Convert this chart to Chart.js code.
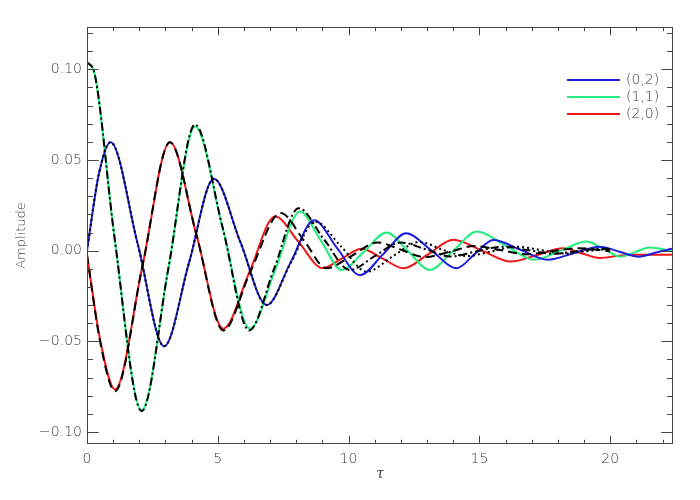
<!DOCTYPE html>
<html>
<head>
<meta charset="utf-8">
<script src="https://cdn.jsdelivr.net/npm/chart.js@4.4.1/dist/chart.umd.min.js"></script>
<style>
  html, body { margin: 0; padding: 0; background: #fff; }
  #wrap { width: 700px; height: 500px; }
</style>
</head>
<body>
<div id="wrap"><canvas id="chart" width="700" height="500"></canvas></div>
<script>
const xTicks = [0, 5, 10, 15, 20];
const yTicks = [-0.10, -0.05, 0.00, 0.05, 0.10];
const legendLabels = ['(0,2)', '(1,1)', '(2,0)'];

// (0,2) - blue
const tau02 = [0, 0.45, 0.9, 1.94, 2.95, 3.9, 4.85, 5.86, 6.87, 7.78, 8.68, 9.56, 10.44, 11.32, 12.2, 13.17, 14.13, 14.82, 15.53, 16.57, 17.6, 18.6, 19.6, 20.35, 21.1, 21.75, 22.4];
const amp02 = [0, 0.042, 0.0598, 0.0036, -0.0527, -0.0066, 0.0396, 0.0048, -0.030, -0.0066, 0.0168, 0.0014, -0.0135, -0.002, 0.0096, 0, -0.0097, -0.0019, 0.0059, 0.0005, -0.005, -0.0014, 0.0022, -0.0006, -0.0033, -0.001, 0.0012];

// (1,1) - green
const tau11 = [0, 0.3, 1.045, 2.09, 3.11, 4.13, 5.18, 6.23, 7.19, 8.14, 8.94, 9.74, 10.6, 11.45, 12.28, 13.1, 14.0, 14.9, 16.0, 17.1, 18.1, 19.1, 19.75, 20.4, 20.95, 21.5, 22.4];
const amp11 = [0.104, 0.097, 0.008, -0.088, -0.0098, 0.0685, 0.0128, -0.043, -0.0107, 0.0216, 0.0055, -0.0107, -0.0004, 0.0100, -0.0004, -0.0107, -0.0001, 0.0105, 0.0028, -0.005, 0, 0.005, 0.0009, -0.0033, -0.0008, 0.0017, -0.0003];

// (2,0) - red
const tau20 = [0, 0.5, 1.07, 2.12, 3.17, 4.19, 5.21, 6.2, 7.19, 8.1, 9.0, 9.75, 10.5, 11.3, 12.1, 13.05, 14.0, 15.1, 16.2, 17.2, 18.2, 18.9, 19.6, 20.25, 20.9, 22.4];
const amp20 = [-0.0024, -0.049, -0.0765, -0.0084, 0.0598, 0.0084, -0.043, -0.0121, 0.0188, 0.0046, -0.0096, -0.0043, 0.0010, -0.0044, -0.0097, -0.0019, 0.0060, 0, -0.006, -0.0024, 0.0013, -0.0014, -0.004, -0.003, -0.0022, -0.0022];

// black approximations
const tauDash = [0, 0.5, 1.07, 2.12, 3.17, 4.19, 5.21, 6.25, 7.4, 8.3, 9.15, 10.1, 11.1, 12.0, 12.9, 13.9, 14.8, 15.8, 16.8, 17.8, 18.8, 20.0];
const ampDash = [-0.0024, -0.050, -0.0775, -0.0084, 0.0598, 0.0084, -0.0440, -0.0115, 0.0207, 0.0055, -0.0097, -0.0030, 0.0045, 0.0005, -0.0035, -0.0005, 0.0025, 0.0003, -0.0020, -0.0002, 0.0013, -0.0003];

const tauDashDot = [0, 0.3, 1.045, 2.09, 3.11, 4.13, 5.18, 6.2, 7.15, 8.09, 9.07, 10.05, 11.0, 12.0, 13.0, 13.9, 14.9, 15.9, 16.9, 17.8, 18.8, 19.7, 20.0];
const ampDashDot = [0.104, 0.097, 0.008, -0.0885, -0.0098, 0.0695, 0.013, -0.044, -0.0100, 0.0234, 0.0060, -0.0107, -0.0030, 0.0045, 0.0005, -0.0032, -0.0003, 0.0022, 0.0002, -0.0017, -0.0002, 0.0011, 0.0009];

const tauDot = [0, 0.45, 0.9, 1.94, 2.95, 3.9, 4.85, 5.86, 6.87, 7.8, 8.72, 9.7, 10.7, 11.7, 12.7, 13.6, 14.5, 15.5, 16.4, 17.4, 18.3, 19.2, 20.0];
const ampDot = [0, 0.042, 0.0598, 0.0036, -0.0527, -0.0066, 0.0396, 0.0048, -0.030, -0.0065, 0.0160, 0.0025, -0.0116, -0.0030, 0.0048, 0.0005, -0.0030, -0.0003, 0.0022, 0.0002, -0.0016, -0.0001, 0.0009];

const pts = (xs, ys) => xs.map((x, i) => ({ x, y: ys[i] }));
const FONT = "'DejaVu Sans', sans-serif";
const TXT = '#3c3c3c';

const line = (label, xs, ys, color, dash, order, width) => ({
    label,
    data: pts(xs, ys),
    borderColor: color,
    borderWidth: width,
    borderDash: dash,
    pointRadius: 0,
    cubicInterpolationMode: 'monotone',
    fill: false,
    order,
});

const frame = {
    id: 'frame',
    afterDatasetsDraw(chart) {
        const { ctx, chartArea: a, scales: { x, y } } = chart;
        ctx.save();
        ctx.strokeStyle = '#444';
        ctx.lineWidth = 1;
        ctx.strokeRect(Math.round(a.left) + 0.5, Math.round(a.top) + 0.5,
            Math.round(a.right - a.left) - 1, Math.round(a.bottom - a.top) - 1);

        ctx.beginPath();
        for (let i = 0; i <= 22; i++) {
            const px = Math.round(x.getPixelForValue(i)) + 0.5;
            const len = i % 5 === 0 ? 8.3 : 4.2;
            ctx.moveTo(px, a.bottom); ctx.lineTo(px, a.bottom - len);
            ctx.moveTo(px, a.top); ctx.lineTo(px, a.top + len);
        }
        for (let k = -10; k <= 12; k++) {
            const py = Math.round(y.getPixelForValue(k / 100)) + 0.5;
            const len = k % 5 === 0 ? 11.7 : 5.9;
            ctx.moveTo(a.left, py); ctx.lineTo(a.left + len, py);
            ctx.moveTo(a.right, py); ctx.lineTo(a.right - len, py);
        }
        ctx.stroke();

        // legend
        const sets = chart.data.datasets.filter(d => legendLabels.includes(d.label));
        ctx.font = `200 14px ${FONT}`;
        ctx.textBaseline = 'middle';
        ctx.fillStyle = TXT;
        sets.forEach((d, i) => {
            const ly = 80 + i * 17;
            ctx.strokeStyle = d.borderColor;
            ctx.lineWidth = 2;
            ctx.beginPath();
            ctx.moveTo(567, ly); ctx.lineTo(620, ly);
            ctx.stroke();
            ctx.fillText(d.label, 626, ly);
        });
        ctx.restore();
    },
};

new Chart(document.getElementById('chart'), {
    type: 'line',
    data: {
        datasets: [
            line('(0,2)', tau02, amp02, '#1e1ee0', [], 1, 2),
            line('(1,1)', tau11, amp11, '#22ec7c', [], 1, 2),
            line('(2,0)', tau20, amp20, '#f01616', [], 1, 2),
            line('dashed', tauDash, ampDash, '#000', [9, 5], 0, 2),
            line('dashdot', tauDashDot, ampDashDot, '#000', [8, 3, 2, 3], 0, 2),
            line('dotted', tauDot, ampDot, '#000', [2, 3], 0, 2),
        ],
    },
    options: {
        responsive: false,
        animation: false,
        events: [],
        layout: { padding: { left: 0, top: 27, right: 27, bottom: 0 } },
        plugins: { legend: { display: false }, tooltip: { enabled: false } },
        scales: {
            x: {
                type: 'linear',
                min: 0,
                max: 22.4,
                grid: { display: false, drawTicks: false },
                border: { display: false },
                afterFit: (s) => { s.height = 56; },
                afterBuildTicks: (s) => { s.ticks = xTicks.map((v) => ({ value: v })); },
                ticks: {
                    color: TXT, font: { family: FONT, size: 14, weight: 200 }, padding: 7,
                    maxRotation: 0, autoSkip: false, callback: (v) => String(v),
                },
                title: {
                    display: true, text: 'τ', color: TXT,
                    font: { family: "'DejaVu Serif', serif", style: 'italic', size: 14 },
                    padding: { top: 0, bottom: 17 },
                },
            },
            y: {
                type: 'linear',
                min: -0.1066,
                max: 0.1233,
                grid: { display: false, drawTicks: false },
                border: { display: false },
                afterFit: (s) => { s.width = 87; },
                afterBuildTicks: (s) => { s.ticks = yTicks.map((v) => ({ value: v })); },
                ticks: {
                    color: TXT, font: { family: FONT, size: 14, weight: 200 }, padding: 5,
                    callback: (v) => v.toFixed(2).replace('-', '\u2212'),
                },
                title: {
                    display: true, text: 'Amplitude', color: TXT,
                    font: { family: FONT, size: 13, weight: 200 },
                    padding: { top: 14, bottom: 0 },
                },
            },
        },
    },
    plugins: [frame],
});
</script>
</body>
</html>
